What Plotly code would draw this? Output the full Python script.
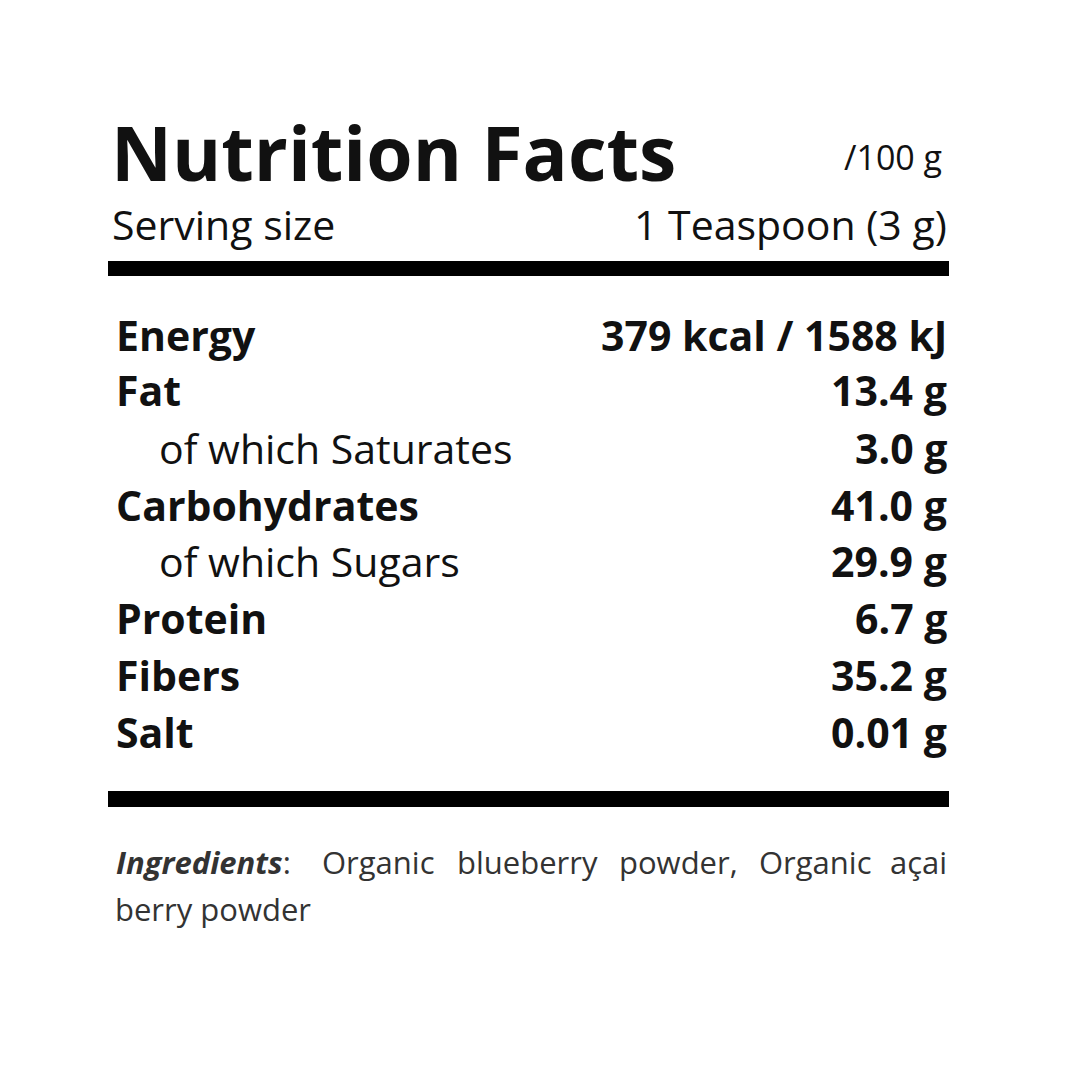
import plotly.graph_objects as go

title = "Nutrition Facts"
per = "/100 g"
serving_label = "Serving size"
serving_value = "1 Teaspoon (3 g)"
nutrients = ["Energy", "Fat", "of which Saturates", "Carbohydrates", "of which Sugars", "Protein", "Fibers", "Salt"]
values = ["379 kcal / 1588 kJ", "13.4 g", "3.0 g", "41.0 g", "29.9 g", "6.7 g", "35.2 g", "0.01 g"]
is_sub = [False, False, True, False, True, False, False, False]
ingr_words = ["<b><i>Ingredients</i></b>:", "Organic", "blueberry", "powder,", "Organic", "açai"]
ingr_line2 = "berry powder"

W = H = 1080
F = "Open Sans"
DX, DY = -8, -9
def X(p): return (p + DX) / W
def Y(p): return 1 - (p + DY) / H

ann = []
def add(text, x, y, size, anchor="left", color="#111"):
    ann.append(dict(text=text, x=X(x), y=Y(y), xref="paper", yref="paper", showarrow=False,
                    xanchor=anchor, yanchor="middle", font=dict(family=F, size=size, color=color)))

add("<b>" + title + "</b>", 109, 153, 75)
add(per, 944, 158, 34, "right")
add(serving_label, 110, 225, 41)
add(serving_value, 949, 225, 41, "right")
row_y = [336, 391, 449, 506, 562, 619, 676, 733]
for n, v, s, y in zip(nutrients, values, is_sub, row_y):
    add(n if s else "<b>" + n + "</b>", 157 if s else 114, y, 41)
    add("<b>" + v + "</b>", 949, y, 41, "right")
word_x = [114, 320, 455, 617, 757, 949]
for i, (w, x) in enumerate(zip(ingr_words, word_x)):
    add(w, x, 863, 31, "right" if i == len(ingr_words) - 1 else "left", "#333")
add(ingr_line2, 113, 910, 31, "left", "#333")

shapes = [dict(type="rect", xref="paper", yref="paper", x0=X(108), x1=X(949), y0=Y(277), y1=Y(262),
               fillcolor="#000", line_width=0),
          dict(type="rect", xref="paper", yref="paper", x0=X(108), x1=X(949), y0=Y(808), y1=Y(792),
               fillcolor="#000", line_width=0)]

fig = go.Figure()
fig.update_layout(width=W, height=H, margin=dict(l=0, r=0, t=0, b=0), paper_bgcolor="white",
                  plot_bgcolor="white", annotations=ann, shapes=shapes,
                  xaxis=dict(visible=False), yaxis=dict(visible=False))
fig.write_html("out.html")
